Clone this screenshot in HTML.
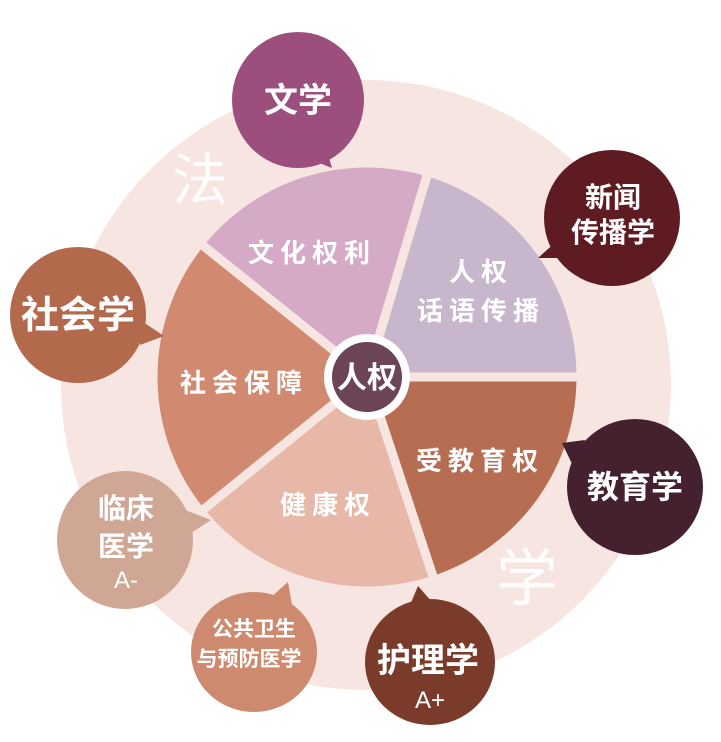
<!DOCTYPE html>
<html><head><meta charset="utf-8"><style>
html,body{margin:0;padding:0;background:#fff;}
svg{display:block;}
text{font-family:"Liberation Sans","Noto Sans CJK SC",sans-serif;fill:#fff;text-anchor:middle;}
.b text{font-weight:bold;}
</style></head><body>
<svg width="721" height="742" viewBox="0 0 721 742" xmlns="http://www.w3.org/2000/svg">
<circle cx="366" cy="385" r="305" fill="#f6e5e0"/>
<text x="200" y="200" font-size="56" opacity="0.95">法</text>
<text x="527" y="600" font-size="62" opacity="0.95">学</text>

<g stroke="#f6e5e0" stroke-width="9" stroke-linejoin="miter">
<path d="M367,377 L200,243.2 A214,214 0 0 1 428.1,171.9 Z" fill="#d5aac6"/>
<path d="M367,377 L428.1,171.9 A214,214 0 0 1 581,377 Z" fill="#c7b6cc"/>
<path d="M367,377 L581,377 A214,214 0 0 1 434.2,580.2 Z" fill="#b76d51"/>
<path d="M367,377 L434.2,580.2 A214,214 0 0 1 200.7,511.7 Z" fill="#e7b8a8"/>
<path d="M367,377 L200.7,511.7 A214,214 0 0 1 200,243.2 Z" fill="#d18a70"/>
</g>
<circle cx="367" cy="377" r="43" fill="#fff"/>
<circle cx="367" cy="377" r="35" fill="#6b4455"/>
<text x="367" y="388" font-size="30" font-weight="bold">人权</text>

<g font-size="26" letter-spacing="6" font-weight="bold">
<text x="312" y="262">文化权利</text>
<text x="481" y="281">人权</text>
<text x="481" y="320">话语传播</text>
<text x="244" y="392">社会保障</text>
<text x="480" y="470">受教育权</text>
<text x="328" y="514">健康权</text>
</g>

<g class="b">
<path d="M312,160 L332,168 L326,148 Z" fill="#9c4e7c"/>
<ellipse cx="298" cy="100" rx="66" ry="68" fill="#9c4e7c"/>
<text x="298" y="112" font-size="34">文学</text>

<path d="M558,240 L538,258 L562,258 Z" fill="#5e1c22"/>
<ellipse cx="612" cy="218" rx="68" ry="68" fill="#5e1c22"/>
<text x="613" y="207" font-size="28">新闻</text>
<text x="613" y="242" font-size="28">传播学</text>

<path d="M562,443 L585,440 L575,470 Z" fill="#45202e"/>
<ellipse cx="635" cy="487" rx="68" ry="68" fill="#45202e"/>
<text x="635" y="498" font-size="32">教育学</text>

<path d="M140,320 L164,336 L140,345 Z" fill="#b3694c"/>
<ellipse cx="78" cy="315" rx="68" ry="68" fill="#b3694c"/>
<text x="78" y="328" font-size="38">社会学</text>

<path d="M185,510 L211,520 L188,535 Z" fill="#d0a795"/>
<ellipse cx="125" cy="540" rx="68" ry="69" fill="#d0a795"/>
<text x="126" y="518" font-size="28">临床</text>
<text x="126" y="556" font-size="28">医学</text>
<text x="126" y="588" font-size="24" font-weight="normal" style="font-weight:normal">A-</text>

<path d="M270,598 L288,582 L292,605 Z" fill="#cd8a6e"/>
<ellipse cx="254" cy="652" rx="63" ry="60" fill="#cd8a6e"/>
<text x="254" y="636" font-size="21">公共卫生</text>
<text x="249" y="666" font-size="21">与预防医学</text>

<path d="M410,605 L418,586 L432,602 Z" fill="#7a3b2a"/>
<ellipse cx="430" cy="662" rx="65" ry="63" fill="#7a3b2a"/>
<text x="428" y="672" font-size="34">护理学</text>
<text x="430" y="708" font-size="24" style="font-weight:normal">A+</text>
</g>
</svg>
</body></html>
